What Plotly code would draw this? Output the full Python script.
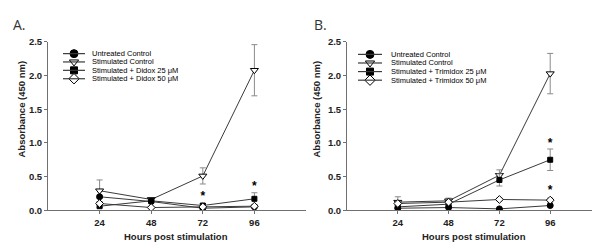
import plotly.graph_objects as go

# ---------------- data ----------------
hours = [24, 48, 72, 96]
x_ticks = [24, 48, 72, 96]
y_ticks = [0.0, 0.5, 1.0, 1.5, 2.0, 2.5]

# Panel A (Didox)
a_untreated = [0.20, 0.13, 0.03, 0.05]
a_untreated_err = [0.02, 0.02, 0.01, 0.01]
a_stim = [0.29, 0.16, 0.51, 2.08]
a_stim_err = [0.16, 0.02, 0.12, 0.38]
a_d25 = [0.06, 0.14, 0.07, 0.17]
a_d25_err = [0.02, 0.02, 0.03, 0.09]
a_d50 = [0.10, 0.04, 0.05, 0.06]
a_d50_err = [0.02, 0.01, 0.02, 0.02]
a_star_x = [72, 96]
a_star_y = [0.19, 0.35]

# Panel B (Trimidox)
b_untreated = [0.03, 0.04, 0.02, 0.07]
b_untreated_err = [0.01, 0.01, 0.01, 0.02]
b_stim = [0.12, 0.14, 0.52, 2.03]
b_stim_err = [0.08, 0.04, 0.08, 0.30]
b_t25 = [0.05, 0.09, 0.45, 0.75]
b_t25_err = [0.02, 0.02, 0.09, 0.16]
b_t50 = [0.10, 0.12, 0.16, 0.15]
b_t50_err = [0.02, 0.02, 0.02, 0.03]
b_star_x = [96, 96]
b_star_y = [0.99, 0.28]

labels_a = ["Untreated Control", "Stimulated Control",
            "Stimulated + Didox 25 \u03bcM", "Stimulated + Didox 50 \u03bcM"]
labels_b = ["Untreated Control", "Stimulated Control",
            "Stimulated + Trimidox 25 \u03bcM", "Stimulated + Trimidox 50 \u03bcM"]

# ---------------- styles ----------------
FONT = "Liberation Sans, Arial, sans-serif"
LINE_C = "#3a3a3a"
ERR_C = "#8a8a8a"
AXIS_C = "#707070"
styles = [
    dict(symbol="circle", color="black", line=dict(color="black", width=1)),
    dict(symbol="triangle-down", color="white", line=dict(color="black", width=1)),
    dict(symbol="square", color="black", line=dict(color="black", width=1)),
    dict(symbol="diamond", color="white", line=dict(color="black", width=1)),
]
sizes = [6, 7, 5, 6]

fig = go.Figure()

panels = [
    ("x", "y", [a_untreated, a_stim, a_d25, a_d50],
     [a_untreated_err, a_stim_err, a_d25_err, a_d50_err], a_star_x, a_star_y),
    ("x2", "y2", [b_untreated, b_stim, b_t25, b_t50],
     [b_untreated_err, b_stim_err, b_t25_err, b_t50_err], b_star_x, b_star_y),
]

# draw order: back to front
order = [1, 0, 2, 3]
for xa, ya, series, errs, sx, sy in panels:
    for i in order:
        fig.add_trace(go.Scatter(
            x=hours, y=series[i], xaxis=xa, yaxis=ya, mode="lines+markers",
            line=dict(color=LINE_C, width=1),
            marker=dict(size=sizes[i], **styles[i]),
            error_y=dict(type="data", array=errs[i], color=ERR_C,
                         thickness=1, width=3),
            showlegend=False, hoverinfo="skip"))
    fig.add_trace(go.Scatter(
        x=sx, y=sy, xaxis=xa, yaxis=ya, mode="text", text=["*"] * len(sx),
        textfont=dict(family=FONT, size=12, color="black", weight="bold"),
        textposition="middle center", showlegend=False, hoverinfo="skip"))

# ---------------- custom compact legends (pixel overlay axis) ----------------
W, H = 600, 244
legend_specs = [
    (labels_a, 55, 77, 82, [41.5, 50.2, 59.0, 67.8]),
    (labels_b, 350, 374, 381, [42.3, 51.3, 60.3, 69.3]),
]
leg_sizes = [8, 8, 7, 8]
for labs, x0, x1, xt, rows in legend_specs:
    for i, (lab, yy) in enumerate(zip(labs, rows)):
        fig.add_shape(type="line", xref="x3", yref="y3", x0=x0, x1=x1,
                      y0=yy, y1=yy, line=dict(color=LINE_C, width=1.2))
        fig.add_trace(go.Scatter(
            x=[(x0 + x1) / 2], y=[yy], xaxis="x3", yaxis="y3", mode="markers",
            marker=dict(size=leg_sizes[i], **styles[i]),
            showlegend=False, hoverinfo="skip"))
        fig.add_annotation(xref="x3", yref="y3", x=xt, y=yy, text=lab,
                           showarrow=False, xanchor="left", yanchor="middle",
                           font=dict(family=FONT, size=7.5, color="black"))

# ---------------- axes ----------------
y_bottom = 1 - 205.5 / H
y_top = 1 - 29.3 / H
ax_common = dict(showgrid=False, zeroline=False, showline=True,
                 linecolor=AXIS_C, linewidth=1, ticks="outside", ticklen=3,
                 tickcolor=AXIS_C, tickfont=dict(family=FONT, size=9.5,
                                                 color="#222", weight="bold"))
fig.update_layout(
    xaxis=dict(domain=[40 / W, 298 / W], range=[0, 120], tickvals=x_ticks,
               anchor="y", **ax_common),
    yaxis=dict(domain=[y_bottom, y_top], range=[0, 2.5], tickvals=y_ticks,
               tickformat=".1f", anchor="x", **ax_common),
    xaxis2=dict(domain=[339 / W, 593 / W], range=[0, 120], tickvals=x_ticks,
                anchor="y2", **ax_common),
    yaxis2=dict(domain=[y_bottom, y_top], range=[0, 2.5], tickvals=y_ticks,
                tickformat=".1f", anchor="x2", **ax_common),
    xaxis3=dict(domain=[0, 1], range=[0, W], visible=False, anchor="y3"),
    yaxis3=dict(domain=[0, 1], range=[H, 0], visible=False, anchor="x3"),
    width=W, height=H, margin=dict(l=0, r=0, t=0, b=0),
    paper_bgcolor="white", plot_bgcolor="rgba(0,0,0,0)",
    showlegend=False,
)

# titles and panel labels
for cx, txt in [(13, "Absorbance (450 nm)"), (308, "Absorbance (450 nm)")]:
    fig.add_annotation(xref="paper", yref="paper", x=cx / W,
                       y=1 - 100 / H, text="<b>%s</b>" % txt, textangle=-90,
                       showarrow=False, xanchor="center", yanchor="middle",
                       font=dict(family=FONT, size=9.5, color="#222"))
for cx in [168, 466]:
    fig.add_annotation(xref="paper", yref="paper", x=cx / W, y=1 - 233 / H,
                       text="<b>Hours post stimulation</b>", showarrow=False,
                       xanchor="center", yanchor="middle",
                       font=dict(family=FONT, size=9.5, color="#222"))
for px, lab in [(3, "A."), (304, "B.")]:
    fig.add_annotation(xref="paper", yref="paper", x=px / W, y=1 - 11 / H,
                       text=lab, showarrow=False, xanchor="left",
                       yanchor="middle",
                       font=dict(family="Open Sans, sans-serif", size=14,
                                 color="#333"))

fig.write_html("out.html")
